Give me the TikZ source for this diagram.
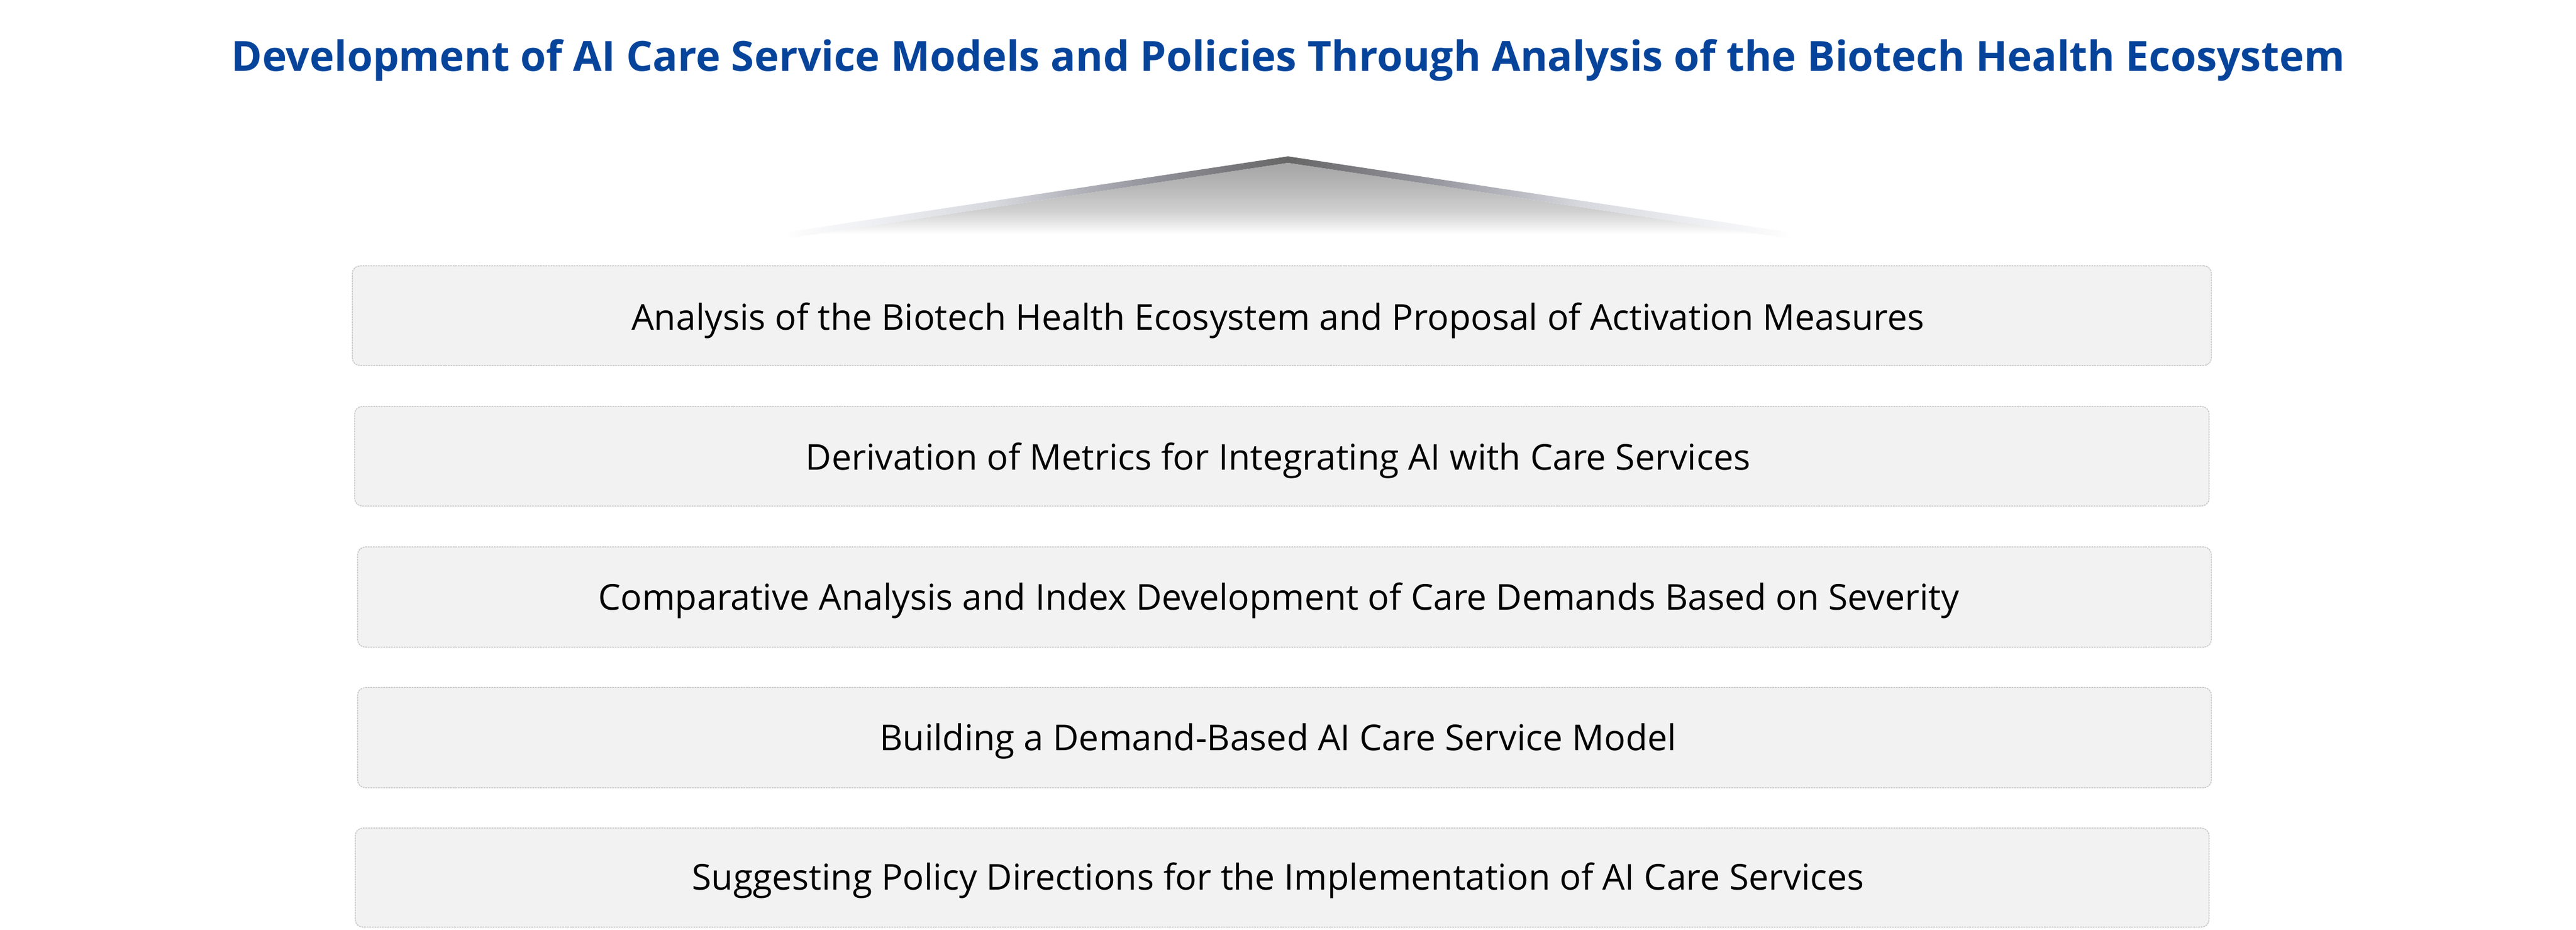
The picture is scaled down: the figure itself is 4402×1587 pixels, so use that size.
\documentclass[tikz,border=0pt]{standalone}
\usepackage{fontspec}
\setmainfont{Open Sans}
\definecolor{titleblue}{HTML}{06449B}
\definecolor{boxfill}{HTML}{F2F2F2}
\definecolor{boxline}{HTML}{C8C8C8}
\definecolor{rb0}{HTML}{FAFAFB}
\definecolor{rbA}{HTML}{EEEFF2}
\definecolor{rbB}{HTML}{D6D8DE}
\definecolor{rbC}{HTML}{909098}
\definecolor{rbD}{HTML}{666666}
\definecolor{rfA}{HTML}{A8A8A8}
\definecolor{rfB}{HTML}{B8B8B8}
\definecolor{rfC}{HTML}{D0D0D0}
\definecolor{rfD}{HTML}{ECECEC}
\pgfdeclarehorizontalshading{roofleft}{100bp}{color(0bp)=(white); color(25bp)=(white); color(27bp)=(rb0); color(34bp)=(rbA); color(46bp)=(rbB); color(62bp)=(rbC); color(75bp)=(rbD); color(100bp)=(rbD)}
\pgfdeclarehorizontalshading{roofright}{100bp}{color(0bp)=(rbD); color(25bp)=(rbD); color(38bp)=(rbC); color(54bp)=(rbB); color(66bp)=(rbA); color(73bp)=(rb0); color(75bp)=(white); color(100bp)=(white)}
\pgfdeclareverticalshading{roofbody}{100bp}{color(0bp)=(white); color(28bp)=(white); color(34bp)=(rfD); color(43.5bp)=(rfC); color(59bp)=(rfB); color(72bp)=(rfA); color(100bp)=(rfA)}
\tikzset{
  stagebox/.style={draw=boxline, line width=1.5pt*0.2845, dash pattern=on 0.9pt off 0.35pt, fill=boxfill, rounded corners=0.13cm, inner sep=0pt, outer sep=0pt},
  stagetext/.style={anchor=base, inner sep=0pt, font=\fontsize{17.3}{21}\selectfont, text=black},
  titletext/.style={anchor=base, inner sep=0pt, font=\fontsize{20.2}{24}\selectfont\bfseries, text=titleblue}
}
\begin{document}
\begin{tikzpicture}[x=0.01cm, y=-0.01cm]
\useasboundingbox (0,0) rectangle (4402,1587);
% title
\node[titletext] (title) at (2201.5,121) {Development of AI Care Service Models and Policies Through Analysis of the Biotech Health Ecosystem};
% roof
\coordinate (apex) at (2201,267);
\coordinate (apexin) at (2201,278);
\coordinate (lo) at (1340,397);
\coordinate (li) at (1340,408);
\coordinate (ro) at (3062,397);
\coordinate (ri) at (3062,408);
\shade[shading=roofbody] (apexin) -- (li) -- (ri) -- cycle;
\shade[shading=roofleft] (apex) -- (lo) -- (li) -- (apexin) -- cycle;
\shade[shading=roofright] (apex) -- (ro) -- (ri) -- (apexin) -- cycle;
% boxes
\node[stagebox, minimum width=31.75cm, minimum height=1.70cm] (b1) at (2190.5,539) {};
\node[stagebox, minimum width=31.67cm, minimum height=1.70cm] (b2) at (2190.5,779) {};
\node[stagebox, minimum width=31.66cm, minimum height=1.71cm] (b3) at (2195,1019.5) {};
\node[stagebox, minimum width=31.66cm, minimum height=1.71cm] (b4) at (2195,1259.5) {};
\node[stagebox, minimum width=31.66cm, minimum height=1.69cm] (b5) at (2191,1498.5) {};
% texts
\node[stagetext] (t1) at (2184,563) {Analysis of the Biotech Health Ecosystem and Proposal of Activation Measures};
\node[stagetext] (t2) at (2184,802) {Derivation of Metrics for Integrating AI with Care Services};
\node[stagetext] (t3) at (2185,1041) {Comparative Analysis and Index Development of Care Demands Based on Severity};
\node[stagetext] (t4) at (2184,1281) {Building a Demand-Based AI Care Service Model};
\node[stagetext] (t5) at (2184,1519) {Suggesting Policy Directions for the Implementation of AI Care Services};
\end{tikzpicture}
\end{document}
